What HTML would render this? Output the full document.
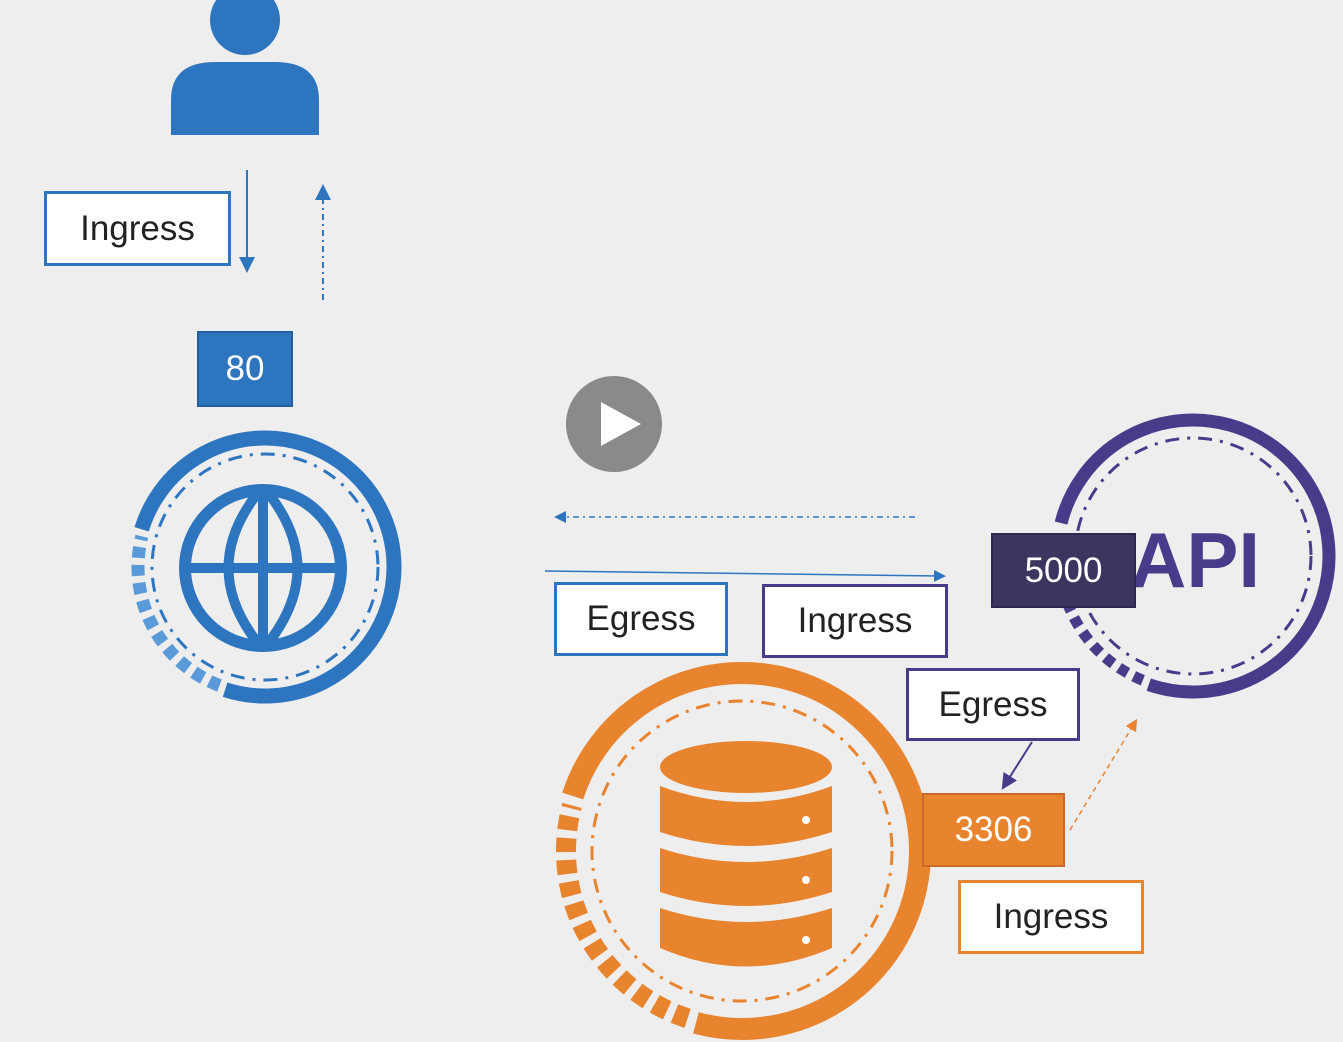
<!DOCTYPE html>
<html><head><meta charset="utf-8"><style>
html,body{margin:0;padding:0}
body{width:1343px;height:1042px;background:#eeeeee;position:relative;overflow:hidden;font-family:"Liberation Sans",sans-serif}
.b{position:absolute;box-sizing:border-box;background:#fff;font-size:35px;display:flex;align-items:center;justify-content:center;color:#222}
svg{position:absolute;left:0;top:0}
</style></head><body>
<svg id="s" width="1343" height="1042" viewBox="0 0 1343 1042">
<defs>
<marker id="ab" markerWidth="8" markerHeight="8" refX="4" refY="4" orient="auto"><path d="M0,0L8,4L0,8z" fill="#2e75c0"/></marker>
<marker id="ao" markerWidth="8" markerHeight="8" refX="4" refY="4" orient="auto"><path d="M0,0L8,4L0,8z" fill="#e8832e"/></marker>
<marker id="ap" markerWidth="8" markerHeight="8" refX="4" refY="4" orient="auto"><path d="M0,0L8,4L0,8z" fill="#4a3a8a"/></marker>
</defs>
<circle cx="245" cy="20" r="35" fill="#2e75c0"/>
<path d="M171,135 L171,100 Q171,62 215,62 L275,62 Q319,62 319,100 L319,135 Z" fill="#2e75c0"/>
<line x1="247" y1="170" x2="247" y2="265" stroke="#2e75c0" stroke-width="2" marker-end="url(#ab)"/>
<line x1="323" y1="300" x2="323" y2="192" stroke="#2e75c0" stroke-width="2" stroke-dasharray="6 4 2 4" marker-end="url(#ab)"/>
<rect x="198" y="332" width="94" height="74" fill="#2e75c0" stroke="#245f9c" stroke-width="2"/>
<circle cx="263" cy="568" r="78" fill="none" stroke="#2e75c0" stroke-width="12"/>
<line x1="185" y1="568" x2="341" y2="568" stroke="#2e75c0" stroke-width="10"/>
<line x1="263" y1="490" x2="263" y2="646" stroke="#2e75c0" stroke-width="10"/>
<path d="M257,494 Q200,568 257,642 M269,494 Q326,568 269,642" fill="none" stroke="#2e75c0" stroke-width="10"/>
<g fill="#e8832e">
<ellipse cx="746" cy="767" rx="86" ry="26"/>
<path d="M660,786 Q746,818 832,786 L832,832 Q746,860 660,832Z"/>
<path d="M660,848 Q746,876 832,848 L832,892 Q746,920 660,892Z"/>
<path d="M660,908 Q746,936 832,908 L832,948 Q746,985 660,948Z"/>
</g>
<g fill="#fff"><circle cx="806" cy="820" r="4"/><circle cx="806" cy="880" r="4"/><circle cx="806" cy="940" r="4"/></g>
<circle cx="614" cy="424" r="48" fill="#8a8a8a"/>
<path d="M601,402 L641,424 L601,446Z" fill="#fff"/>
<line x1="915" y1="517" x2="560" y2="517" stroke="#2e75c0" stroke-width="1.5" stroke-dasharray="6 4 2 4" marker-end="url(#ab)"/>
<line x1="545" y1="571" x2="940" y2="576" stroke="#2e75c0" stroke-width="1.5" marker-end="url(#ab)"/>
<line x1="1032" y1="742" x2="1006" y2="783" stroke="#4a3a8a" stroke-width="2" marker-end="url(#ap)"/>
<line x1="1070" y1="830" x2="1134" y2="724" stroke="#e8832e" stroke-width="1.5" stroke-dasharray="5 4" marker-end="url(#ao)"/>
</svg>
<div class="b" style="left:44px;top:191px;width:187px;height:75px;border:3px solid #2e75c0">Ingress</div>
<div class="b" style="left:198px;top:332px;width:94px;height:74px;background:transparent;color:#fff">80</div>
<div class="b" style="left:554px;top:582px;width:174px;height:74px;border:3px solid #2e75c0">Egress</div>
<div class="b" style="left:762px;top:584px;width:186px;height:74px;border:3px solid #4a3a8a">Ingress</div>
<div class="b" style="left:906px;top:668px;width:174px;height:73px;border:3px solid #4a3a8a">Egress</div>
<div class="b" style="left:922px;top:793px;width:143px;height:74px;background:#e8832e;color:#fff;border:2px solid #c9692a">3306</div>
<div class="b" style="left:958px;top:880px;width:186px;height:74px;border:3px solid #e8832e">Ingress</div>
<div style="position:absolute;left:1130px;top:510px;font:bold 78px 'Liberation Sans',sans-serif;color:#4a3a8a;line-height:100px">API</div>
<div class="b" style="left:991px;top:533px;width:145px;height:75px;background:#3b3660;color:#fff;border:2px solid #2b2750">5000</div>
<script>
const s=document.getElementById('s');
function P(cx,cy,r,a){a=a*Math.PI/180;return [cx+r*Math.cos(a),cy+r*Math.sin(a)];}
function arc(cx,cy,r,a0,a1,attrs){const p0=P(cx,cy,r,a0),p1=P(cx,cy,r,a1);const large=(a1-a0)>180?1:0;
 const e=document.createElementNS('http://www.w3.org/2000/svg','path');
 e.setAttribute('d',`M${p0[0]},${p0[1]} A${r},${r} 0 ${large} 1 ${p1[0]},${p1[1]}`);e.setAttribute('fill','none');
 for(const k in attrs)e.setAttribute(k,attrs[k]);s.insertBefore(e,s.firstChild.nextSibling);}
function ring(cx,cy,R,w,ri,a0,a1,col,lt,dw,da){
 arc(cx,cy,R,a0,a1+360,{stroke:col,'stroke-width':w});
 arc(cx,cy,R-2,a1+3,a0-3,{stroke:lt,'stroke-width':dw,'stroke-dasharray':da});
 const c=document.createElementNS('http://www.w3.org/2000/svg','circle');
 c.setAttribute('cx',cx);c.setAttribute('cy',cy);c.setAttribute('r',ri);c.setAttribute('fill','none');
 c.setAttribute('stroke',col);c.setAttribute('stroke-width',3);c.setAttribute('stroke-dasharray','14 8 3 8');s.appendChild(c);}
ring(265,567,129,15,113,197,108,'#2e75c0','#5a9ad8',13,'11 7');
ring(742,851,178,22,150,198,105,'#e8832e','#e8832e',20,'14 8');
ring(1193,556,136,13,118,194,109,'#4a3a8a','#4a3a8a',11,'10 7');
</script>
</body></html>
